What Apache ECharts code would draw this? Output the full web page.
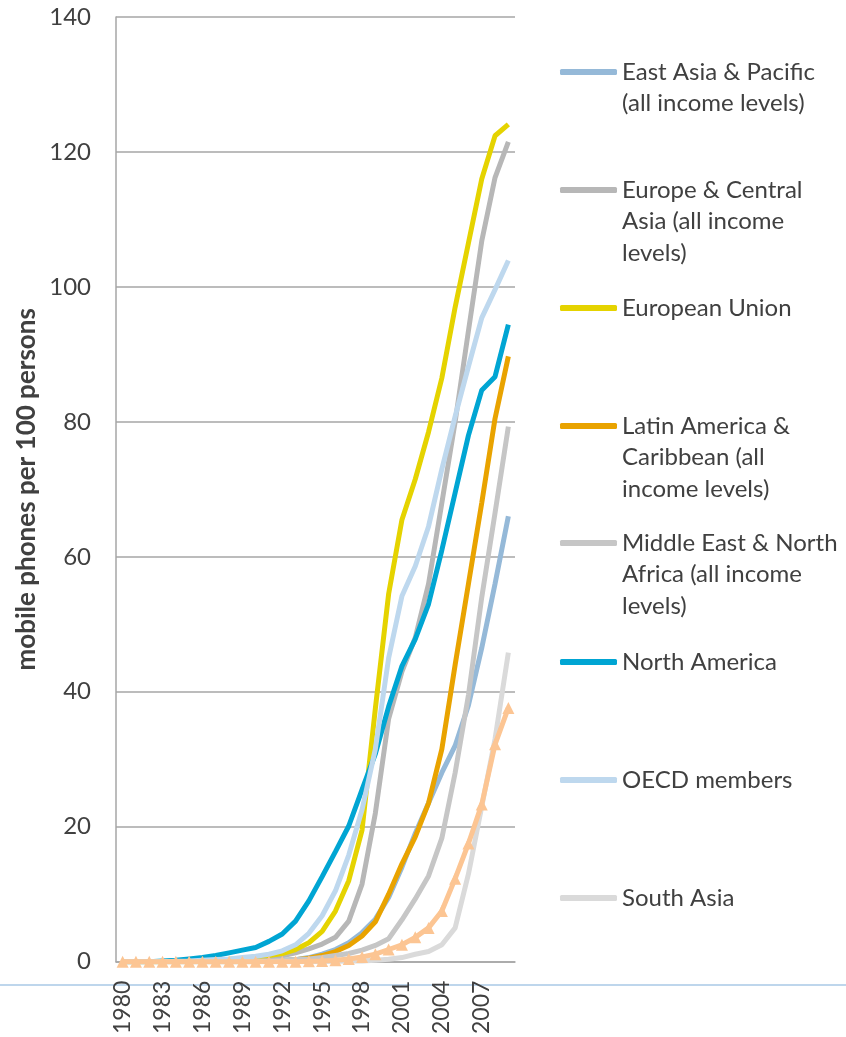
<!DOCTYPE html>
<html>
<head>
<meta charset="utf-8">
<script src="https://cdn.jsdelivr.net/npm/echarts@6/dist/echarts.min.js"></script>
<style>
  html, body { margin: 0; padding: 0; background: #fff; }
  #chart { width: 846px; height: 1037px; }
</style>
</head>
<body>
<div id="chart"></div>
<script>
// years 1980..2009
var years = [];
for (var y = 1980; y <= 2009; y++) years.push(String(y));

var eastAsia =     [0,0,0,0,0,0,0,0,0,0, 0.1,0.1,0.2,0.3,0.6,1.1,1.8,2.8,4.3,6.3, 9.5,14,19,23.5,28,32,38,46.5,56,66];
var europeCA =     [0,0,0,0,0,0,0.05,0.1,0.15,0.25, 0.35,0.55,0.85,1.3,1.9,2.6,3.6,6,11.5,22, 36,43,48,56,68,80,93.5,106.8,116.2,121.5];
var euUnion =      [0,0,0,0,0.05,0.1,0.15,0.25,0.35,0.5, 0.7,0.9,1.2,1.8,2.8,4.5,7.5,12,19.5,37.5, 54.5,65.5,71.5,78.5,86.5,97,106.5,116,122.4,124.1];
var latinAm =      [0,0,0,0,0,0,0,0,0,0, 0,0.05,0.1,0.3,0.5,0.9,1.5,2.4,3.8,5.9, 10,14.5,18.5,23.5,31.5,44,56,68,80.5,89.7];
var middleEast =   [0,0,0,0,0,0,0,0,0,0, 0.1,0.1,0.2,0.3,0.4,0.6,0.9,1.2,1.7,2.4, 3.4,6.2,9.3,12.7,18.3,28,39.5,54,66.5,79.3];
var northAm =      [0,0,0,0.1,0.2,0.4,0.6,0.9,1.3,1.7, 2.1,3,4.1,6,9,12.6,16.3,20.1,25.5,30.8, 37.8,43.8,47.8,53,61,69.5,78,84.7,86.7,94.4];
var oecd =         [0,0,0,0,0.05,0.1,0.2,0.3,0.4,0.6, 0.8,1.1,1.6,2.5,4.2,6.8,10.5,15.8,22.5,31.5, 45,54.2,58.6,64.5,73,80.8,88.2,95.4,99.6,103.9];
var southAsia =    [0,0,0,0,0,0,0,0,0,0, 0,0,0,0,0,0.02,0.05,0.08,0.1,0.2, 0.35,0.6,1.1,1.5,2.5,5,13,23,33,45.8];
var subSahara =    [0,0,0,0,0,0,0,0,0,0, 0,0,0,0,0.05,0.1,0.2,0.4,0.7,1.1, 1.8,2.5,3.6,5,7.5,12.3,17.5,23.3,32.2,37.6];

var seriesNames = ['East Asia & Pacific (all income levels)', 'Europe & Central Asia (all income levels)',
    'European Union', 'Latin America & Caribbean (all income levels)', 'Middle East & North Africa (all income levels)',
    'North America', 'OECD members', 'South Asia', 'Sub-Saharan Africa (all income levels)'];
var legendText = ['East Asia & Pacific\n(all income levels)', 'Europe & Central\nAsia (all income\nlevels)',
    'European Union', 'Latin America &\nCaribbean (all\nincome levels)', 'Middle East & North\nAfrica (all income\nlevels)',
    'North America', 'OECD members', 'South Asia'];
var seriesData = [eastAsia, europeCA, euUnion, latinAm, middleEast, northAm, oecd, southAsia, subSahara];
var colors = ['#95B9D8', '#B7B7B7', '#E5D300', '#E9A300', '#C6C6C6', '#00A5D3', '#BED8EE', '#DADADA', '#FCC593'];
var yTicks = [0, 20, 40, 60, 80, 100, 120, 140];

var textColor = '#404040';
var fontName = 'Lato';
var lineH = 31.5;
var iconY = [72, 190, 308, 426, 543, 662, 780, 898]; // legend icon centre line

var myChart = echarts.init(document.getElementById('chart'));

var series = [];
for (var i = 0; i < seriesData.length; i++) {
    var isSSA = (i === 8);
    series.push({
        name: seriesNames[i],
        type: 'line',
        data: seriesData[i],
        showSymbol: isSSA,
        showAllSymbol: true,
        symbol: isSSA ? 'triangle' : 'none',
        symbolSize: 12,
        lineStyle: { width: 5, color: colors[i] },
        itemStyle: { color: colors[i] },
        z: 2 + i
    });
}

// one legend per entry so each one sits where the original puts it
// blank lines in front keep the first text line level with the icon
var legends = [];
for (var k = 0; k < legendText.length; k++) {
    var n = legendText[k].split('\n').length;
    var txt = new Array(n).join('\n') + legendText[k];
    legends.push({
        left: 560,
        top: iconY[k] - (2 * n - 1) * lineH / 2,
        padding: 0,
        orient: 'vertical',
        selectedMode: false,
        icon: 'roundRect',
        itemWidth: 57,
        itemHeight: 6,
        data: [seriesNames[k]],
        formatter: (function (t) { return function () { return t; }; })(txt),
        textStyle: {
            fontFamily: fontName,
            fontSize: 24,
            color: textColor,
            lineHeight: lineH
        }
    });
}

var option = {
    backgroundColor: '#fff',
    animation: false,
    color: colors,
    legend: legends,
    grid: { left: 116, right: 331, top: 17, bottom: 72 },
    xAxis: {
        type: 'category',
        data: years,
        boundaryGap: true,
        axisLine: { lineStyle: { color: '#A6A6A6', width: 1.5 } },
        axisTick: { show: false },
        axisLabel: {
            interval: 2,
            rotate: 90,
            margin: 19,
            fontFamily: fontName,
            fontSize: 23,
            color: textColor
        }
    },
    yAxis: {
        type: 'value',
        min: yTicks[0],
        max: yTicks[yTicks.length - 1],
        interval: 20,
        name: 'mobile phones per 100 persons',
        nameLocation: 'middle',
        nameGap: 76,
        nameTextStyle: { fontFamily: fontName, fontSize: 26, fontWeight: 'bold', color: textColor },
        axisLine: { show: true, lineStyle: { color: '#A6A6A6', width: 1.5 } },
        axisTick: { show: false },
        splitLine: { lineStyle: { color: '#A6A6A6', width: 1.5 } },
        axisLabel: { margin: 25, fontFamily: fontName, fontSize: 24, color: textColor }
    },
    graphic: [
        {
            // thin slide rule under the plot
            type: 'line',
            shape: { x1: 0, y1: 985, x2: 846, y2: 985 },
            style: { stroke: '#A9C8E6', lineWidth: 1.5 },
            z: -1
        }
    ],
    series: series
};
myChart.setOption(option);
</script>
</body>
</html>
